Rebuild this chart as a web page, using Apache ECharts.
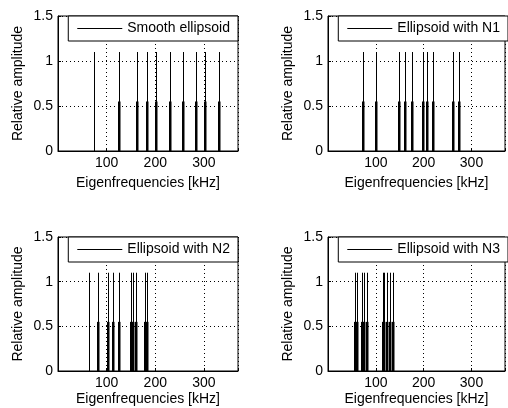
<!DOCTYPE html>
<html>
<head>
<meta charset="utf-8">
<script src="https://cdn.jsdelivr.net/npm/echarts@6/dist/echarts.min.js"></script>
<style>
  html, body { margin: 0; padding: 0; background: #fff; }
  #chart { width: 508px; height: 408px; }
</style>
</head>
<body>
<div id="chart"></div>
<script>
// Eigenfrequencies (kHz) of each shape; every mode has a tall stem,
// most also carry a heavier half-height stem.
const smoothFull = [74, 125, 163, 182, 201, 231, 256, 284, 302, 330];
const smoothHalf = [125, 163, 182, 201, 231, 256, 284, 302, 330];
const n1Full = [73, 101, 148, 161, 175, 199, 206, 219, 261, 274];
const n1Half = [73, 101, 148, 161, 175, 199, 206, 219, 261, 274];
const n2Full = [63, 82, 102, 113, 126, 151, 155, 161, 179, 183];
const n2Half = [82, 102, 113, 126, 151, 155, 161, 179, 183];
const n3Full = [57, 61, 71, 76, 81, 114, 118, 124, 130, 135];
const n3Half = [57, 61, 71, 76, 81, 114, 118, 124, 130, 135];

const fullAmp = 1.1;
const halfAmp = 0.55;

const panelNames = ['Smooth ellipsoid', 'Ellipsoid with N1', 'Ellipsoid with N2', 'Ellipsoid with N3'];
const xTickLabels = [100, 200, 300];
const xRange = [0, 370];
const yRange = [0, 1.5];

const FONT = '"Liberation Sans", Arial, sans-serif';

const panels = [
  { full: smoothFull, half: smoothHalf, left: 58, top: 16, height: 135, nameGap: 25 },
  { full: n1Full, half: n1Half, left: 328, top: 16, height: 135, nameGap: 25 },
  { full: n2Full, half: n2Half, left: 58, top: 237, height: 134, nameGap: 21 },
  { full: n3Full, half: n3Half, left: 328, top: 237, height: 134, nameGap: 21 }
];

// Vertical stem from zero up to the mode amplitude, snapped to the pixel grid.
function stemRenderer(width, shift) {
  return function (params, api) {
    const base = api.coord([api.value(0), 0]);
    const tip = api.coord([api.value(0), api.value(1)]);
    const x = Math.round(base[0]) + shift;
    return {
      type: 'line',
      shape: { x1: x, y1: base[1], x2: x, y2: tip[1] },
      style: { stroke: '#000', lineWidth: width }
    };
  };
}

const grid = [], xAxis = [], yAxis = [], series = [], legend = [];

panels.forEach((p, i) => {
  grid.push({
    left: p.left, top: p.top, width: 180, height: p.height,
    show: true, borderColor: '#000', borderWidth: 1, backgroundColor: '#fff'
  });
  xAxis.push({
    type: 'value', gridIndex: i, min: xRange[0], max: xRange[1], interval: 100,
    name: 'Eigenfrequencies [kHz]', nameLocation: 'middle', nameGap: p.nameGap,
    nameTextStyle: { color: '#000', fontFamily: FONT, fontSize: 14 },
    axisLine: { show: true, onZero: false, lineStyle: { color: '#000', width: 1 } },
    axisTick: { show: true, inside: true, length: 3, lineStyle: { color: '#000' } },
    axisLabel: {
      color: '#000', fontFamily: FONT, fontSize: 14, margin: 5,
      formatter: v => (xTickLabels.indexOf(v) >= 0 ? String(v) : '')
    },
    splitLine: { show: true, lineStyle: { color: '#000', width: 1, type: [1, 3] } }
  });
  yAxis.push({
    type: 'value', gridIndex: i, min: yRange[0], max: yRange[1], interval: 0.5,
    name: 'Relative amplitude', nameLocation: 'middle', nameGap: 33, nameRotate: 90,
    nameTextStyle: { color: '#000', fontFamily: FONT, fontSize: 14 },
    axisLine: { show: true, lineStyle: { color: '#000', width: 1 } },
    axisTick: { show: true, inside: true, length: 3, lineStyle: { color: '#000' } },
    axisLabel: { color: '#000', fontFamily: FONT, fontSize: 14, margin: 5 },
    splitLine: { show: true, lineStyle: { color: '#000', width: 1, type: [1, 3] } }
  });
  series.push({
    type: 'custom', name: panelNames[i], xAxisIndex: i, yAxisIndex: i,
    itemStyle: { color: '#000' },
    renderItem: stemRenderer(1, 0.5),
    data: p.full.map(f => [f, fullAmp]),
    z: 3
  });
  series.push({
    type: 'custom', name: panelNames[i], xAxisIndex: i, yAxisIndex: i,
    itemStyle: { color: '#000' },
    renderItem: stemRenderer(2.5, 0.25),
    data: p.half.map(f => [f, halfAmp]),
    z: 3
  });
  legend.push({
    data: [{ name: panelNames[i], icon: 'rect' }],
    right: 508 - (p.left + 180),
    top: p.top,
    orient: 'vertical',
    backgroundColor: '#fff',
    borderColor: '#000',
    borderWidth: 1,
    borderRadius: 0,
    padding: [5.5, 8, 5.5, 9],
    itemWidth: 45,
    itemHeight: 1,
    selectedMode: false,
    itemStyle: { color: '#000' },
    textStyle: { color: '#000', fontFamily: FONT, fontSize: 14 },
    z: 10
  });
});

const chart = echarts.init(document.getElementById('chart'), null, { renderer: 'canvas' });
chart.setOption({
  animation: false,
  backgroundColor: '#fff',
  grid, xAxis, yAxis, series, legend
});
</script>
</body>
</html>
